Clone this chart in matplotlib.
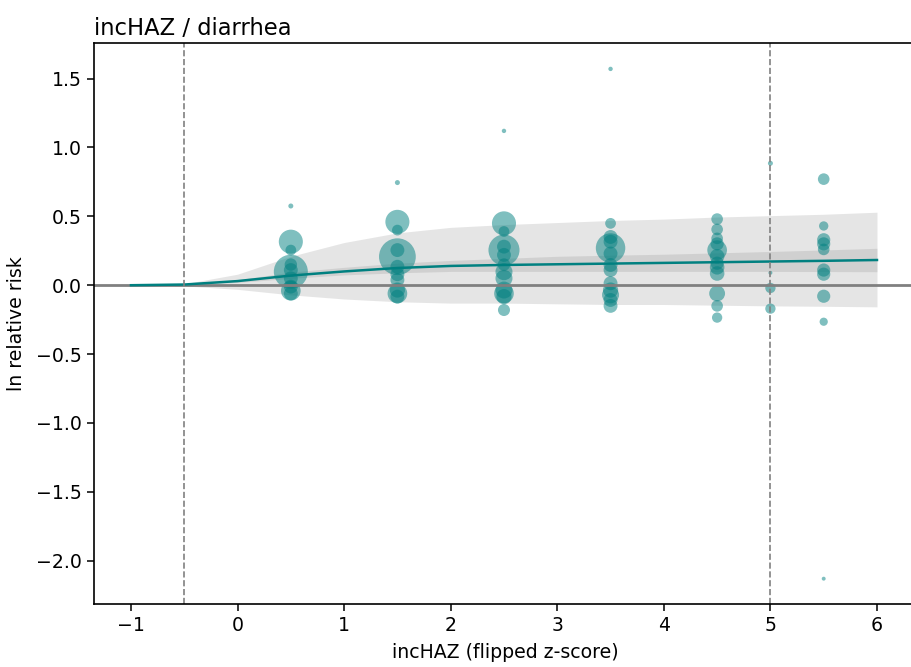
import numpy as np
import matplotlib
matplotlib.use("Agg")
import matplotlib.pyplot as plt

#%% DATA
# fitted curve and its uncertainty bands
curve_x = [-1.0, -0.5, 0.0, 0.5, 1.0, 1.5, 2.0, 2.5, 3.0, 3.5, 4.0, 4.5, 5.0, 5.5, 6.0]
curve_y = [0.0, 0.005, 0.03, 0.07, 0.10, 0.125, 0.14, 0.147, 0.152, 0.157, 0.162, 0.167, 0.172, 0.177, 0.183]
outer_lo = [0.0, -0.005, -0.03, -0.07, -0.10, -0.12, -0.13, -0.13, -0.135, -0.14, -0.14, -0.145, -0.15, -0.153, -0.157]
outer_hi = [0.0, 0.01, 0.08, 0.21, 0.31, 0.38, 0.42, 0.44, 0.455, 0.47, 0.48, 0.495, 0.505, 0.515, 0.53]
inner_lo = [0.0, 0.005, 0.02, 0.05, 0.075, 0.09, 0.10, 0.10, 0.10, 0.10, 0.10, 0.10, 0.10, 0.099, 0.098]
inner_hi = [0.0, 0.005, 0.04, 0.095, 0.13, 0.16, 0.18, 0.195, 0.21, 0.218, 0.225, 0.235, 0.245, 0.256, 0.268]

# study points (exposure midpoint, ln RR, weight)
pts_x = [0.5] * 10 + [1.5] * 11 + [2.5] * 13 + [3.5] * 13 + [4.5] * 12 + [5.0] * 4 + [5.5] * 10
pts_y = [0.575, 0.316, 0.255, 0.098, 0.15, 0.11, 0.05, -0.01, -0.04, -0.06,
         0.745, 0.46, 0.40, 0.207, 0.255, 0.134, 0.08, 0.038, -0.035, -0.06, -0.083,
         1.12, 0.449, 0.39, 0.255, 0.28, 0.22, 0.15, 0.098, 0.05, -0.035, -0.06, -0.083, -0.18,
         1.57, 0.449, 0.35, 0.316, 0.27, 0.23, 0.147, 0.11, 0.014, -0.035, -0.07, -0.107, -0.15,
         0.48, 0.405, 0.34, 0.30, 0.255, 0.21, 0.16, 0.13, 0.085, -0.06, -0.15, -0.235,
         0.885, 0.09, -0.02, -0.17,
         0.77, 0.43, 0.33, 0.30, 0.26, 0.11, 0.08, -0.08, -0.265, -2.13]
pts_w = [13, 300, 60, 600, 80, 100, 100, 100, 200, 100,
         13, 300, 60, 700, 100, 100, 100, 100, 120, 200, 100,
         10, 300, 60, 500, 100, 100, 80, 150, 150, 150, 200, 120, 75,
         10, 60, 100, 100, 450, 100, 100, 100, 100, 120, 150, 100, 100,
         70, 70, 70, 90, 200, 110, 90, 110, 110, 130, 70, 55,
         13, 8, 55, 55,
         70, 45, 90, 90, 70, 90, 90, 90, 35, 8]

teal = "#008080"

#%% PLOT
fig = plt.figure(figsize=(9.12, 6.67), dpi=100)
# the reference is cropped: right spine lies past the canvas edge
ax = fig.add_axes([0.1027, 0.0942, 0.9524, 0.8407])

ax.fill_between(curve_x, outer_lo, outer_hi, color="gray", alpha=0.2, lw=0)
ax.fill_between(curve_x, inner_lo, inner_hi, color="gray", alpha=0.2, lw=0)
ax.axhline(0, color="gray", lw=2)
ax.scatter(pts_x, pts_y, s=pts_w, color=teal, alpha=0.5, lw=0)
ax.plot(curve_x, curve_y, color=teal, lw=1.8)
ax.axvline(-0.5, color="gray", ls="--", lw=1.2)
ax.axvline(5.0, color="gray", ls="--", lw=1.2)

ax.set_xlim(-1.35, 6.8)
ax.set_ylim(-2.315, 1.755)
ax.set_xticks(range(-1, 7))
ax.set_yticks([-2.0, -1.5, -1.0, -0.5, 0.0, 0.5, 1.0, 1.5])
ax.tick_params(labelsize=13.6, length=5, width=1.1)
for s in ax.spines.values():
    s.set_linewidth(1.2)

ax.set_title("incHAZ / diarrhea", loc="left", fontsize=16.3)
ax.set_xlabel("incHAZ (flipped z-score)", fontsize=13.6, x=0.474, labelpad=6)
ax.set_ylabel("ln relative risk", fontsize=13.6, labelpad=7)

fig.savefig("out.png", dpi=100)
